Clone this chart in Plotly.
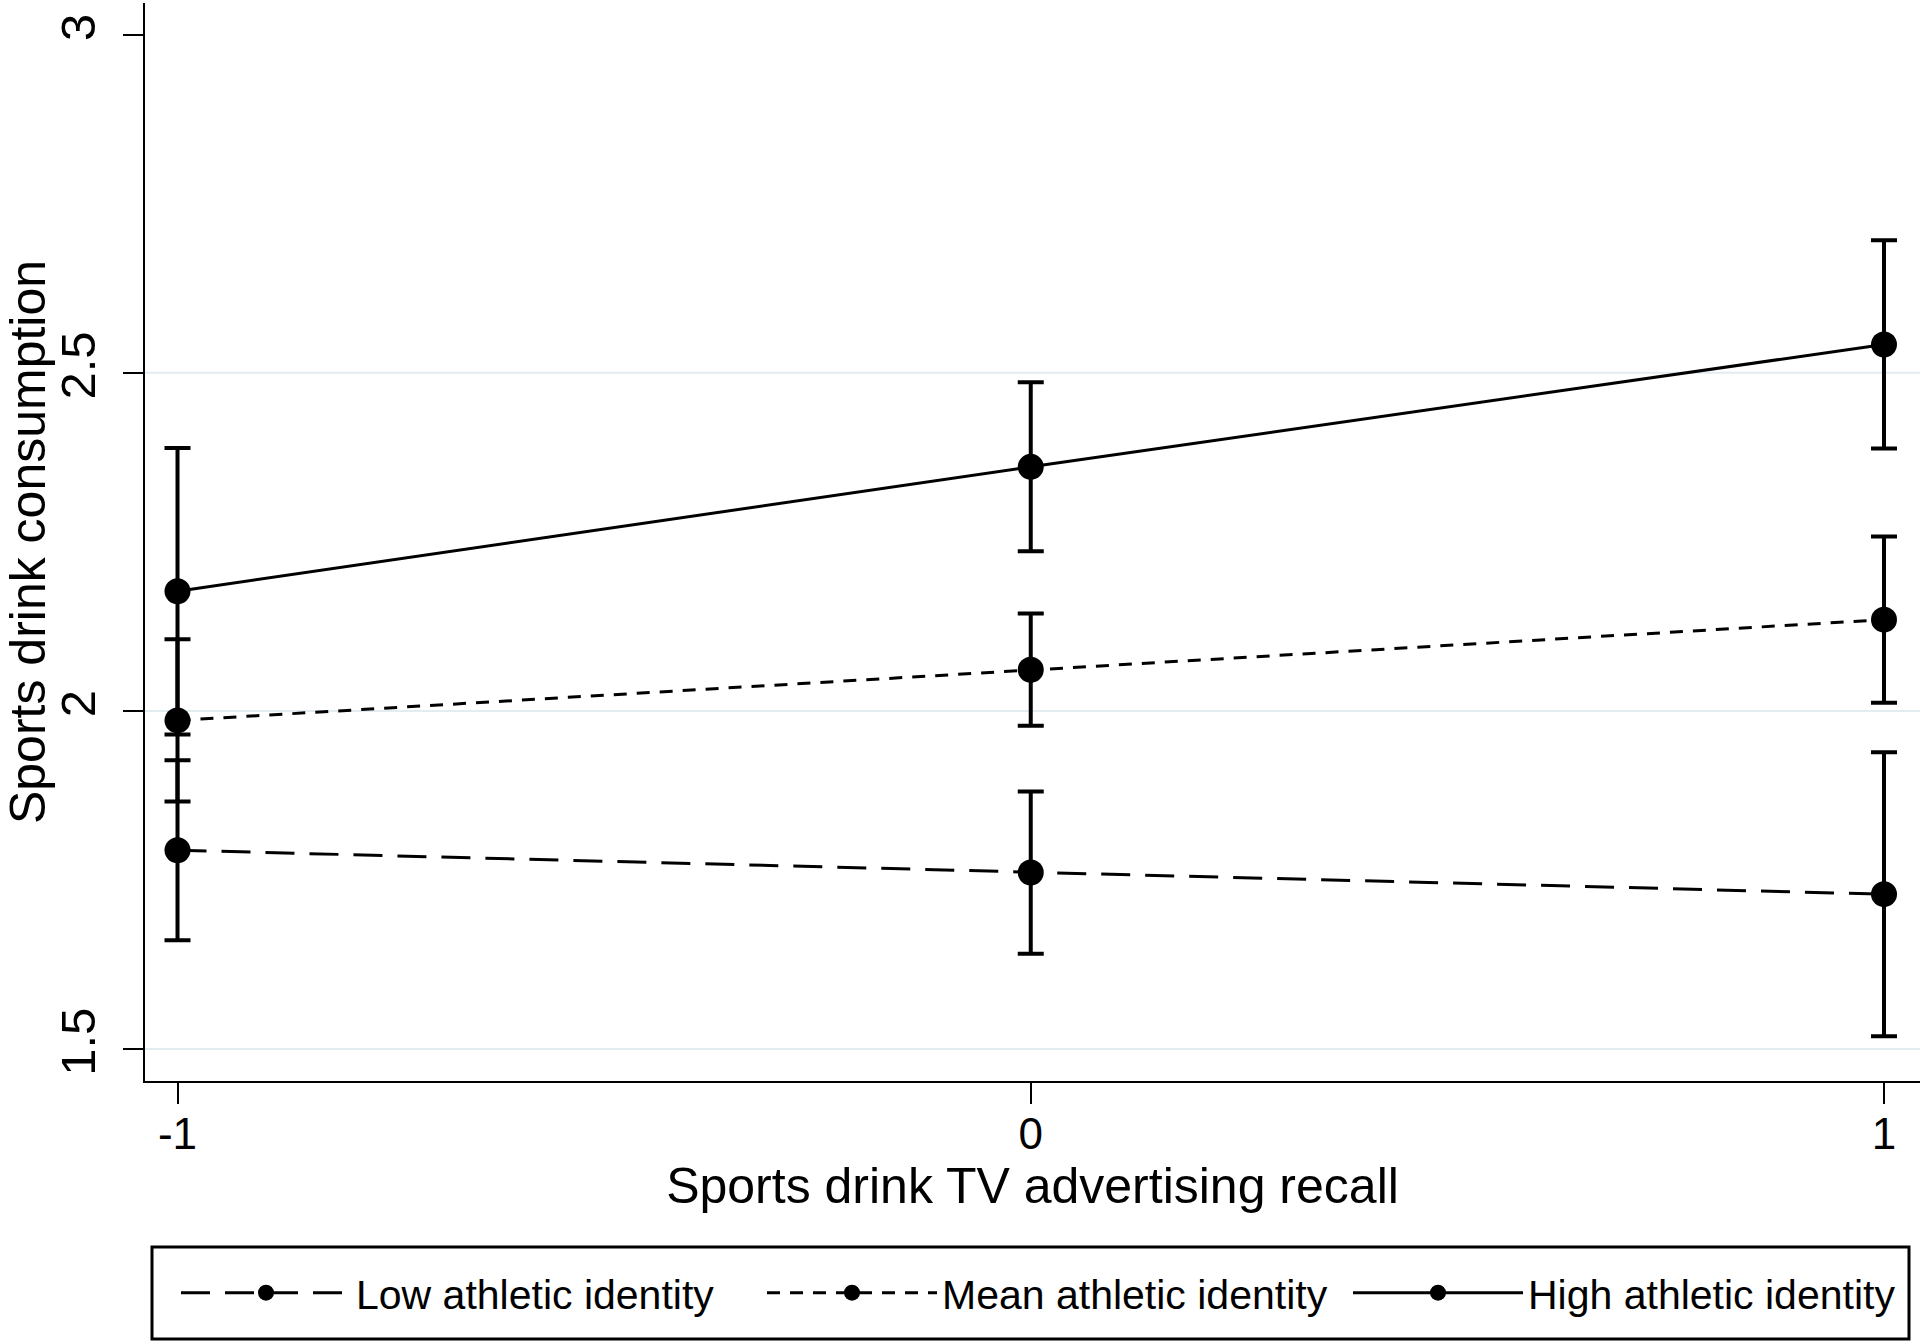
import plotly.graph_objects as go

# ---- data ----
x_vals = [-1, 0, 1]
series_names = ["Low athletic identity", "Mean athletic identity", "High athletic identity"]
low_y = [1.794, 1.761, 1.729]
low_err = [0.133, 0.120, 0.210]
mean_y = [1.986, 2.061, 2.135]
mean_err = [0.120, 0.083, 0.123]
high_y = [2.177, 2.361, 2.542]
high_err = [0.212, 0.125, 0.154]
y_ticks = [1.5, 2, 2.5, 3]
y_tick_text = ["1.5", "2", "2.5", "3"]
grid_vals = [1.5, 2, 2.5]
x_ticks = [-1, 0, 1]
x_tick_text = ["-1", "0", "1"]

FONT = "Liberation Sans, Arial, Helvetica, sans-serif"
W, H = 1920, 1343
ML, MR, MT, MB = 145, 0, 3, 262
PW, PH = W - ML - MR, H - MT - MB

fig = go.Figure()

styles = [
    (low_y, low_err, "29px,15px"),
    (mean_y, mean_err, "13px,10px"),
    (high_y, high_err, "solid"),
]
for name, (ys, es, dash) in zip(series_names, styles):
    fig.add_trace(go.Scatter(
        x=x_vals, y=ys, name=name, mode="lines+markers",
        line=dict(color="black", width=3, dash=dash),
        marker=dict(color="black", size=26, symbol="circle"),
        error_y=dict(type="data", array=es, visible=True, color="black",
                     thickness=4, width=13),
        cliponaxis=False,
    ))

# light horizontal grid lines (not at the top tick)
for g in grid_vals:
    fig.add_shape(type="line", xref="paper", yref="y", x0=0, x1=1, y0=g, y1=g,
                  line=dict(color="#e3ecf1", width=2), layer="below")

# legend frame
fig.add_shape(type="rect", xref="paper", yref="paper",
              x0=(152 - ML) / PW, x1=(1909 - ML) / PW,
              y0=(H - MB - 1339) / PH, y1=(H - MB - 1247) / PH,
              line=dict(color="black", width=3), fillcolor="rgba(0,0,0,0)")

fig.update_layout(
    width=W, height=H,
    margin=dict(l=ML, r=MR, t=MT, b=MB, autoexpand=False),
    paper_bgcolor="white", plot_bgcolor="white",
    font=dict(family=FONT, color="black"),
    showlegend=True,
    legend=dict(
        orientation="h",
        x=(176 - ML) / PW, xanchor="left",
        y=(H - MB - 1293) / PH, yanchor="middle",
        font=dict(size=41, family=FONT, color="black"),
        itemwidth=170,
        entrywidth=401,
        entrywidthmode="pixels",
        borderwidth=0,
        bgcolor="rgba(0,0,0,0)",
        itemsizing="trace",
    ),
    xaxis=dict(
        range=[-1.0381, 1.0422],
        tickvals=x_ticks, ticktext=x_tick_text,
        ticks="outside", ticklen=21, tickwidth=2, tickcolor="black",
        ticklabelstandoff=-8,
        tickfont=dict(size=44, family=FONT, color="black"),
        showline=True, linecolor="black", linewidth=2,
        showgrid=False, zeroline=False, automargin=False,
        title=dict(text="Sports drink TV advertising recall",
                   font=dict(size=50, family=FONT, color="black"), standoff=2),
    ),
    yaxis=dict(
        range=[1.4527, 3.047],
        tickvals=y_ticks, ticktext=y_tick_text,
        ticks="outside", ticklen=20, tickwidth=2, tickcolor="black",
        tickangle=-90,
        ticklabelstandoff=8,
        tickfont=dict(size=49, family=FONT, color="black"),
        showline=True, linecolor="black", linewidth=2,
        showgrid=False, zeroline=False, automargin=False,
        title=dict(text="Sports drink consumption",
                   font=dict(size=50, family=FONT, color="black"), standoff=0),
    ),
)

fig.write_html("out.html",
               config={"displayModeBar": False},
               post_script="document.body.style.margin='0';document.body.style.padding='0';")
